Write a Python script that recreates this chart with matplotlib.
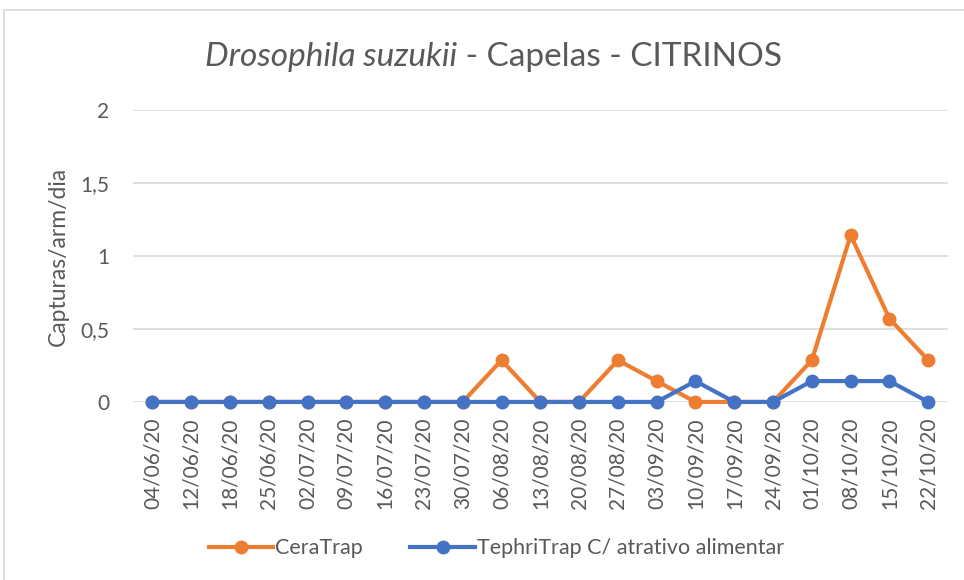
import matplotlib.pyplot as plt
from matplotlib.patches import Rectangle

dates = ["04/06/20", "12/06/20", "18/06/20", "25/06/20", "02/07/20", "09/07/20",
         "16/07/20", "23/07/20", "30/07/20", "06/08/20", "13/08/20", "20/08/20",
         "27/08/20", "03/09/20", "10/09/20", "17/09/20", "24/09/20", "01/10/20",
         "08/10/20", "15/10/20", "22/10/20"]
ceratrap = [0, 0, 0, 0, 0, 0, 0, 0, 0, 0.286, 0, 0, 0.286, 0.143, 0, 0, 0,
            0.286, 1.143, 0.571, 0.286]
tephritrap = [0, 0, 0, 0, 0, 0, 0, 0, 0, 0, 0, 0, 0, 0, 0.143, 0, 0,
              0.143, 0.143, 0.143, 0]

plt.rcParams['font.family'] = ['Lato', 'DejaVu Sans']
grey = '#595959'

fig = plt.figure(figsize=(9.64, 5.8), dpi=100)
ax = fig.add_axes([0.138, 0.307, 0.845, 0.503])

# chart frame
fig.patches.append(Rectangle((4 / 964, -0.1), 1.1, (580 - 10) / 580 + 0.1,
                             transform=fig.transFigure, fill=False,
                             edgecolor='#d9d9d9', linewidth=1.2))

x = range(len(dates))
ax.plot(x, ceratrap, color='#ed7d31', marker='o', markersize=9, linewidth=3,
        label='CeraTrap', clip_on=False, zorder=3)
ax.plot(x, tephritrap, color='#4472c4', marker='o', markersize=9, linewidth=3,
        label='TephriTrap C/ atrativo alimentar', clip_on=False, zorder=4)

ax.set_xlim(-0.5, len(dates) - 0.5)
ax.set_ylim(0, 2)
ax.set_yticks([0, 0.5, 1, 1.5, 2])
ax.set_yticklabels(['0', '0,5', '1', '1,5', '2'])
ax.set_xticks(list(x))
ax.set_xticklabels(dates, rotation=90)
ax.tick_params(axis='both', length=0, colors=grey, labelsize=15)
ax.tick_params(axis='y', pad=17)
ax.tick_params(axis='x', pad=11)
ax.grid(axis='y', color='#d9d9d9', linewidth=1.2)
ax.set_axisbelow(True)
for s in ax.spines.values():
    s.set_visible(False)

ax.set_ylabel('Capturas/arm/dia', fontsize=16.5, color=grey, labelpad=8)
fig.text(0.474, 0.902, 'Drosophila suzukii', fontsize=24, color=grey,
         style='italic', ha='right', va='center')
fig.text(0.474, 0.902, ' - Capelas - CITRINOS', fontsize=24, color=grey,
         ha='left', va='center')

ax.legend(loc='center', bbox_to_anchor=(0.515, 0.055), bbox_transform=fig.transFigure,
          ncol=2, frameon=False, fontsize=15.5, labelcolor=grey,
          handlelength=3.0, handletextpad=0.1, columnspacing=2.2)

fig.savefig('out.png', dpi=100)
